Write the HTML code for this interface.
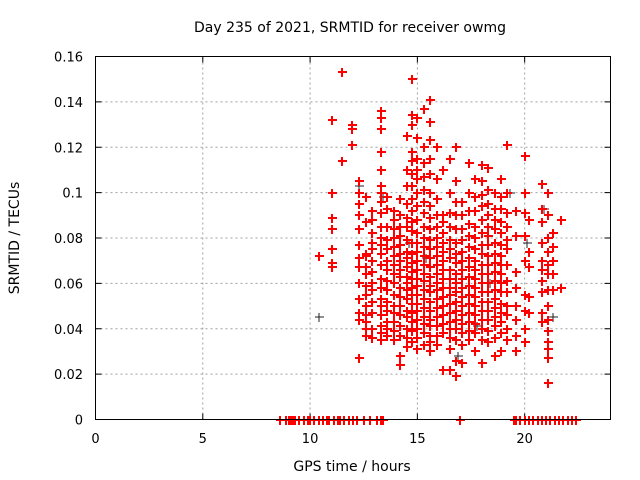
<!DOCTYPE html>
<html><head><meta charset="utf-8"><style>
body{margin:0;background:#fff;}
svg{display:block;font-family:"DejaVu Sans","Liberation Sans",sans-serif;}
</style></head><body>
<svg id="chart" width="640" height="480" viewBox="0 0 640 480">
<rect width="640" height="480" fill="#fff"/>
<g id="grid"></g>
<g id="ticks"></g>
<g id="marks" shape-rendering="crispEdges"></g>
<rect x="95.5" y="56.5" width="515" height="363" fill="none" stroke="#000" stroke-width="1"/>
<text x="350" y="32" text-anchor="middle" font-size="14">Day 235 of 2021, SRMTID for receiver owmg</text>
<text x="352" y="471" text-anchor="middle" font-size="14">GPS time / hours</text>
<text transform="translate(19,238) rotate(-90)" text-anchor="middle" font-size="14">SRMTID / TECUs</text>
</svg>
<script>
const xTicks=[0,5,10,15,20];
const yTicks=[0,0.02,0.04,0.06,0.08,0.1,0.12,0.14,0.16];
const yTickLabels=["0","0.02","0.04","0.06","0.08","0.1","0.12","0.14","0.16"];
const redGroups=[
[10.4,[0.072]],
[11.0,[0.132,0.1,0.089,0.084,0.075,0.069,0.067]],
[11.5,[0.153,0.114]],
[11.95,[0.13,0.128,0.121]],
[12.3,[0.105,0.1,0.095,0.09,0.084,0.077,0.071,0.067,0.06,0.053,0.047,0.044,0.027]],
[12.6,[0.098,0.087,0.073,0.072,0.067,0.064,0.059,0.055,0.05,0.046,0.043,0.04,0.037]],
[12.9,[0.092,0.088,0.082,0.078,0.075,0.07,0.065,0.06,0.057,0.052,0.047,0.04,0.036]],
[13.3,[0.136,0.133,0.128,0.118,0.11,0.103,0.1,0.096,0.091,0.085,0.08,0.077,0.073,0.068,0.062,0.058,0.053,0.05,0.046,0.041,0.038,0.035]],
[13.6,[0.098,0.093,0.085,0.079,0.075,0.07,0.066,0.061,0.057,0.052,0.048,0.043,0.04,0.037]],
[13.9,[0.092,0.088,0.084,0.08,0.076,0.072,0.068,0.064,0.06,0.055,0.05,0.047,0.043,0.039,0.035]],
[14.2,[0.097,0.09,0.085,0.081,0.077,0.073,0.07,0.066,0.063,0.058,0.054,0.05,0.046,0.041,0.037,0.028,0.024]],
[14.5,[0.125,0.11,0.103,0.095,0.089,0.085,0.079,0.074,0.071,0.067,0.063,0.06,0.057,0.053,0.048,0.045,0.04,0.036,0.032]],
[14.75,[0.15,0.134,0.13,0.118,0.114,0.108,0.103,0.097,0.092,0.087,0.083,0.078,0.073,0.069,0.065,0.062,0.058,0.055,0.051,0.047,0.043,0.039,0.034]],
[15.0,[0.133,0.124,0.115,0.11,0.106,0.1,0.094,0.088,0.082,0.078,0.074,0.07,0.066,0.062,0.059,0.055,0.051,0.048,0.044,0.04,0.036,0.031]],
[15.3,[0.137,0.12,0.113,0.107,0.101,0.096,0.091,0.085,0.08,0.076,0.072,0.068,0.064,0.061,0.057,0.053,0.049,0.045,0.042,0.038,0.033]],
[15.6,[0.141,0.131,0.123,0.115,0.108,0.1,0.094,0.089,0.084,0.079,0.075,0.071,0.067,0.063,0.059,0.056,0.052,0.048,0.044,0.041,0.037,0.034,0.03]],
[15.9,[0.12,0.106,0.097,0.09,0.085,0.08,0.076,0.072,0.068,0.064,0.06,0.057,0.053,0.049,0.045,0.041,0.037,0.033]],
[16.2,[0.11,0.09,0.087,0.082,0.078,0.074,0.07,0.066,0.062,0.058,0.054,0.05,0.046,0.042,0.038,0.022]],
[16.5,[0.115,0.1,0.091,0.085,0.079,0.075,0.071,0.066,0.062,0.058,0.055,0.051,0.047,0.043,0.04,0.036,0.031,0.022]],
[16.8,[0.12,0.105,0.096,0.09,0.084,0.078,0.073,0.069,0.064,0.06,0.056,0.052,0.048,0.044,0.04,0.035,0.026,0.019]],
[17.1,[0.096,0.09,0.084,0.079,0.074,0.07,0.066,0.062,0.058,0.054,0.05,0.046,0.042,0.038,0.033,0.025]],
[17.4,[0.113,0.1,0.092,0.086,0.081,0.076,0.071,0.067,0.063,0.059,0.055,0.051,0.047,0.043,0.039,0.035]],
[17.7,[0.106,0.098,0.092,0.085,0.08,0.075,0.07,0.066,0.062,0.058,0.054,0.05,0.046,0.042,0.038,0.03]],
[18.0,[0.112,0.105,0.099,0.094,0.088,0.082,0.077,0.073,0.068,0.064,0.06,0.056,0.052,0.048,0.044,0.04,0.035,0.025]],
[18.3,[0.111,0.101,0.095,0.09,0.085,0.081,0.077,0.072,0.068,0.064,0.06,0.056,0.052,0.048,0.044,0.039,0.034]],
[18.6,[0.1,0.093,0.088,0.084,0.078,0.073,0.069,0.065,0.061,0.057,0.053,0.049,0.045,0.041,0.036,0.028]],
[18.9,[0.106,0.098,0.093,0.087,0.082,0.077,0.072,0.068,0.064,0.06,0.056,0.051,0.047,0.043,0.038,0.03]],
[19.2,[0.121,0.1,0.091,0.085,0.079,0.075,0.068,0.061,0.056,0.05,0.046,0.04,0.035]],
[19.6,[0.092,0.081,0.065,0.058,0.05,0.044,0.037,0.03]],
[20.0,[0.116,0.1,0.091,0.081,0.07,0.055,0.048,0.04,0.034]],
[20.2,[0.088,0.074,0.067,0.054,0.047]],
[20.8,[0.104,0.093,0.087,0.078,0.07,0.066,0.061,0.056,0.047,0.043]],
[21.1,[0.1,0.09,0.08,0.074,0.068,0.064,0.057,0.05,0.044,0.039,0.034,0.031,0.027,0.016]],
[21.3,[0.082,0.076,0.07,0.064,0.057]],
[21.7,[0.088,0.058]]
];
const blackX=[10.4,12.3,13.4,14.6,15.4,16.9,17.8,18.4,19.3,20.1,20.9,21.1,21.3];
const blackY=[0.045,0.103,0.098,0.078,0.071,0.028,0.041,0.06,0.1,0.078,0.093,0.016,0.045];
const zeroX=[8.6,8.9,9.0,9.1,9.2,9.3,9.5,9.7,9.9,10.0,10.2,10.4,10.6,10.8,10.9,11.1,11.3,11.4,11.6,11.8,12.0,12.2,12.5,12.8,13.1,13.3,13.4,17.0,19.5,19.6,19.8,20.0,20.2,20.4,20.6,20.8,21.0,21.2,21.4,21.6,21.8,22.0,22.2,22.4];

const X0=95.5,X1=610.5,Y0=419.5,Y1=56.5,XMAX=24,YMAX=0.16;
const sx=v=>X0+v/XMAX*(X1-X0);
const sy=v=>Y0-v/YMAX*(Y0-Y1);
const NS="http://www.w3.org/2000/svg";
const grid=document.getElementById('grid'),ticks=document.getElementById('ticks'),marks=document.getElementById('marks');
function mk(tag,attrs,parent){const e=document.createElementNS(NS,tag);for(const k in attrs)e.setAttribute(k,attrs[k]);parent.appendChild(e);return e;}
xTicks.forEach(t=>{
  const x=sx(t);
  if(t>0){const g=mk('line',{x1:x,x2:x,y1:Y0,y2:Y1,stroke:'#a0a0a0','stroke-dasharray':'2,3'},grid);
  
  }
  const tk=mk('path',{d:`M${x},${Y0}v-6M${x},${Y1}v6`,stroke:'#000'},ticks);
  
  
  const l=mk('text',{x:x,y:443,'text-anchor':'middle','font-size':'13'},ticks);
  l.textContent=String(t);
  
  
});
yTicks.forEach((t,i)=>{
  const y=sy(t);
  if(t>0&&t<YMAX){const g=mk('line',{x1:X0,x2:X1,y1:y,y2:y,stroke:'#a0a0a0','stroke-dasharray':'2,3'},grid);
  
  }
  const tk=mk('path',{d:`M${X0},${y}h6M${X1},${y}h-6`,stroke:'#000'},ticks);
  
  
  const l=mk('text',{x:83,y:y+5,'text-anchor':'end','font-size':'13'},ticks);
  l.textContent=yTickLabels[i];
  
  
});
function cross(x,y,c,w){
  const p=mk('path',{d:`M${x-4},${y}h9M${x},${y-4}v9`,stroke:c,'stroke-width':w},marks);
  
  
}
blackX.forEach((x,i)=>cross(Math.round(sx(x)),Math.round(sy(blackY[i])),'#222','1'));
redGroups.forEach(g=>g[1].forEach(v=>cross(Math.round(sx(g[0])),Math.round(sy(v)),'#ff0000','1.6')));
zeroX.forEach(x=>cross(Math.round(sx(x)),420,'#ff0000','1.6'));
</script>
</body></html>
